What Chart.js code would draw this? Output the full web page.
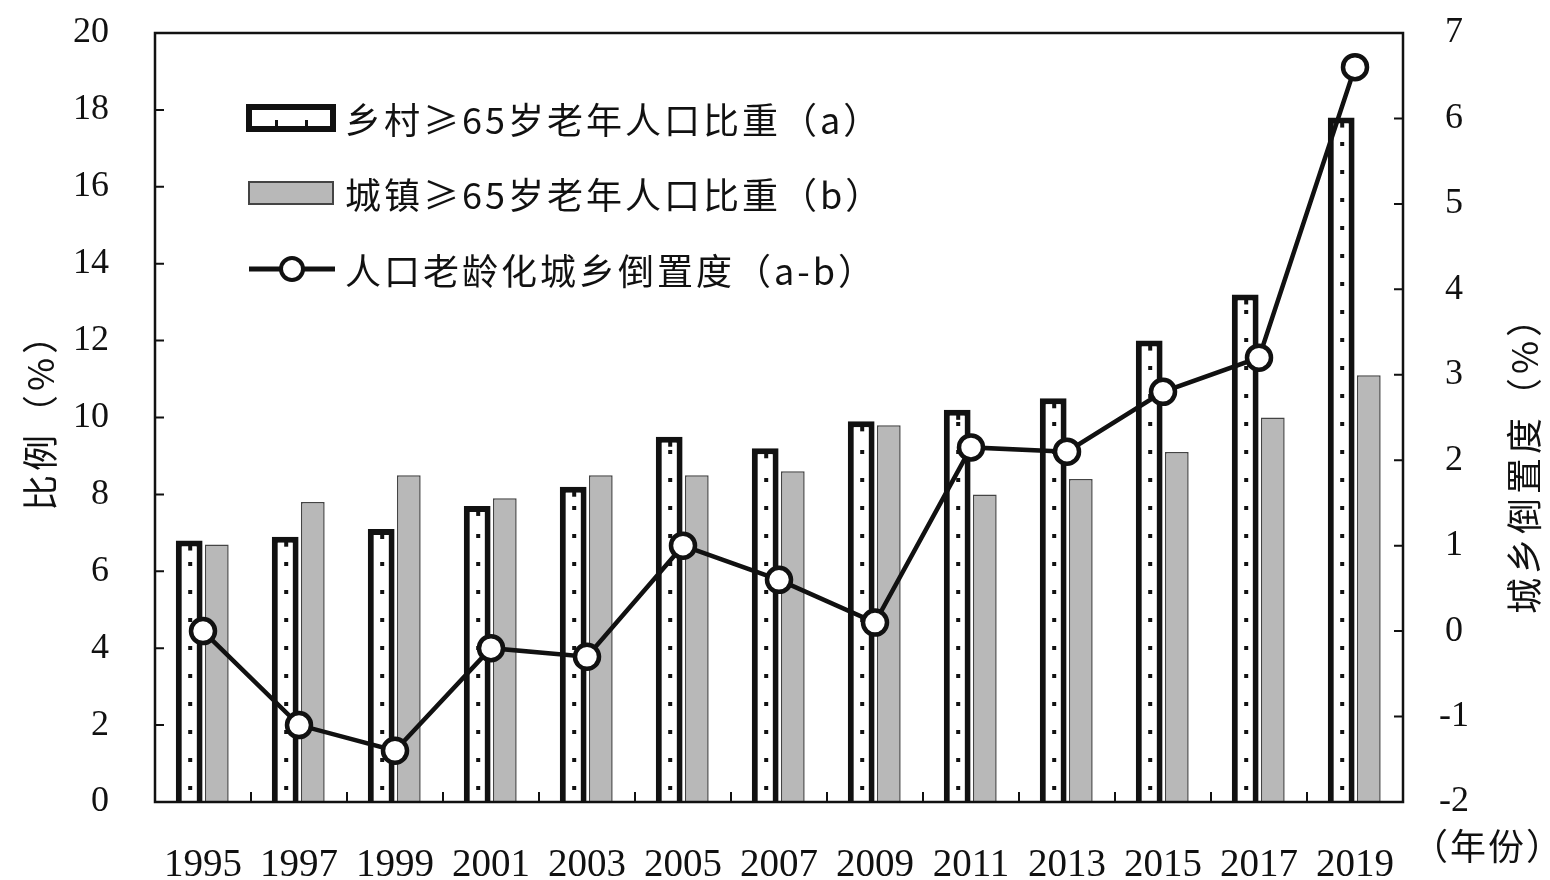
<!DOCTYPE html>
<html>
<head>
<meta charset="utf-8">
<script src="https://cdn.jsdelivr.net/npm/chart.js@4.4.1/dist/chart.umd.min.js"></script>
<style>
  html, body { margin: 0; padding: 0; background: #fff; }
  #wrap { width: 1550px; height: 880px; }
</style>
</head>
<body>
<div id="wrap"><canvas id="chart"></canvas></div>
<script>
// data
const years = ['1995', '1997', '1999', '2001', '2003', '2005', '2007', '2009', '2011', '2013', '2015', '2017', '2019'];
const rural = [6.8, 6.9, 7.1, 7.7, 8.2, 9.5, 9.2, 9.9, 10.2, 10.5, 12.0, 13.2, 17.8];
const urban = [6.7, 7.8, 8.5, 7.9, 8.5, 8.5, 8.6, 9.8, 8.0, 8.4, 9.1, 10.0, 11.1];
const inversion = [0.0, -1.1, -1.4, -0.2, -0.3, 1.0, 0.6, 0.1, 2.15, 2.1, 2.8, 3.2, 6.6];

const leftTicks = [0, 2, 4, 6, 8, 10, 12, 14, 16, 18, 20];
const rightTicks = [-2, -1, 0, 1, 2, 3, 4, 5, 6, 7];

const legendLabels = ['乡村≥65岁老年人口比重（a）', '城镇≥65岁老年人口比重（b）', '人口老龄化城乡倒置度（a-b）'];

const numFont = "'Liberation Serif', 'Times New Roman', serif";
const cjkFont = "'Noto Sans CJK SC', 'Noto Sans', sans-serif";
const grayFill = '#b8b8b8';

// dots inside the rural bars, frame, inner ticks, legend, axis titles
const decor = {
  id: 'decor',
  afterDatasetDraw(chart, args) {
    if (args.index !== 0) return;
    const ctx = chart.ctx;
    ctx.save();
    ctx.fillStyle = '#111';
    args.meta.data.forEach(bar => {
      const dx = bar.x + 1;
      for (let y = bar.base - 14; y > bar.y + 10; y -= 28) {
        ctx.fillRect(dx - 2, y - 2, 4, 4);
      }
      // small notch under the top border
      ctx.fillRect(dx - 2, bar.y + 5, 4, 5);
    });
    ctx.restore();
  },
  afterDraw(chart) {
    const ctx = chart.ctx;
    const a = chart.chartArea;
    const sx = chart.scales.x, sy = chart.scales.y, sy1 = chart.scales.y1;
    ctx.save();
    ctx.strokeStyle = '#111';
    ctx.lineWidth = 2.5;
    ctx.strokeRect(a.left, a.top, a.right - a.left, a.bottom - a.top);

    ctx.lineWidth = 2;
    ctx.beginPath();
    sy.ticks.forEach(t => {
      const py = sy.getPixelForValue(t.value);
      ctx.moveTo(a.left, py); ctx.lineTo(a.left + 9, py);
    });
    sy1.ticks.forEach(t => {
      const py = sy1.getPixelForValue(t.value);
      ctx.moveTo(a.right, py); ctx.lineTo(a.right - 9, py);
    });
    const cw = sx.getPixelForValue(1) - sx.getPixelForValue(0);
    for (let i = 0; i < years.length - 1; i++) {
      const px = sx.getPixelForValue(i) + cw / 2;
      ctx.moveTo(px, a.bottom); ctx.lineTo(px, a.bottom - 10);
    }
    ctx.stroke();

    // legend
    const lx = a.left + 94, tx = a.left + 190;
    const rows = [a.top + 85, a.top + 160, a.top + 236];
    ctx.fillStyle = '#fff';
    ctx.strokeStyle = '#111';
    ctx.lineWidth = 6;
    ctx.fillRect(lx, rows[0] - 11, 84, 22);
    ctx.strokeRect(lx, rows[0] - 11, 84, 22);
    ctx.fillStyle = '#111';
    ctx.fillRect(lx + 26, rows[0] + 2, 3, 6);
    ctx.fillRect(lx + 56, rows[0] + 2, 3, 6);

    ctx.fillStyle = grayFill;
    ctx.strokeStyle = '#444';
    ctx.lineWidth = 2;
    ctx.fillRect(lx, rows[1] - 11, 84, 22);
    ctx.strokeRect(lx, rows[1] - 11, 84, 22);

    ctx.strokeStyle = '#111';
    ctx.lineWidth = 5;
    ctx.beginPath();
    ctx.moveTo(lx, rows[2]); ctx.lineTo(lx + 86, rows[2]);
    ctx.stroke();
    ctx.fillStyle = '#fff';
    ctx.lineWidth = 4;
    ctx.beginPath();
    ctx.arc(lx + 43, rows[2], 11, 0, Math.PI * 2);
    ctx.fill(); ctx.stroke();

    ctx.fillStyle = '#111';
    ctx.font = '36px ' + cjkFont;
    ctx.letterSpacing = '3px';
    ctx.textBaseline = 'middle';
    ctx.textAlign = 'left';
    legendLabels.forEach((s, i) => ctx.fillText(s, tx, rows[i] + 2));

    // axis titles
    ctx.textAlign = 'center';
    ctx.font = '36px ' + cjkFont;
    ctx.letterSpacing = '4px';
    ctx.save();
    ctx.translate(40, (a.top + a.bottom) / 2 - 5);
    ctx.rotate(-Math.PI / 2);
    ctx.fillText('比例（%）', 0, 0);
    ctx.restore();
    ctx.save();
    ctx.translate(1524, (a.top + a.bottom) / 2 + 38);
    ctx.rotate(-Math.PI / 2);
    ctx.fillText('城乡倒置度（%）', 0, 0);
    ctx.restore();
    ctx.letterSpacing = '2px';
    ctx.fillText('（年份）', 1488, a.bottom + 44);
    ctx.restore();
  }
};

function fitVertical(w) {
  return function (scale) {
    scale.width = w;
    scale.paddingTop = 0;
    scale.paddingBottom = 0;
  };
}

const ctx = document.getElementById('chart').getContext('2d');
const chart = new Chart(ctx, {
  data: {
    labels: years,
    datasets: [
      {
        type: 'bar',
        label: legendLabels[0],
        data: rural,
        yAxisID: 'y',
        backgroundColor: '#fff',
        borderColor: '#111',
        borderWidth: 6,
        borderSkipped: 'bottom',
        barPercentage: 0.97,
        categoryPercentage: 0.575,
        order: 1
      },
      {
        type: 'bar',
        label: legendLabels[1],
        data: urban,
        yAxisID: 'y',
        backgroundColor: grayFill,
        borderColor: '#444',
        borderWidth: 1.5,
        borderSkipped: 'bottom',
        barPercentage: 0.86,
        categoryPercentage: 0.575,
        order: 2
      },
      {
        type: 'line',
        label: legendLabels[2],
        data: inversion,
        yAxisID: 'y1',
        borderColor: '#111',
        borderWidth: 4.5,
        tension: 0,
        pointRadius: 12,
        pointBorderWidth: 4.5,
        pointBackgroundColor: '#fff',
        pointBorderColor: '#111',
        order: 0
      }
    ]
  },
  options: {
    responsive: true,
    maintainAspectRatio: false,
    animation: false,
    layout: { autoPadding: false, padding: { top: 33, left: 0, right: 0, bottom: 0 } },
    plugins: {
      legend: { display: false },
      tooltip: { enabled: false }
    },
    scales: {
      x: {
        offset: true,
        grid: { display: false },
        border: { display: false },
        ticks: {
          color: '#111',
          font: { family: numFont, size: 39 },
          padding: 32,
          maxRotation: 0,
          autoSkip: false
        },
        afterFit(scale) { scale.height = 78; scale.paddingLeft = 0; scale.paddingRight = 0; }
      },
      y: {
        position: 'left',
        min: 0,
        max: 20,
        afterBuildTicks(scale) { scale.ticks = leftTicks.map(v => ({ value: v })); },
        grid: { display: false },
        border: { display: false },
        ticks: {
          color: '#111',
          font: { family: numFont, size: 36 },
          padding: 38
        },
        afterFit: fitVertical(155)
      },
      y1: {
        position: 'right',
        min: -2,
        max: 7,
        afterBuildTicks(scale) { scale.ticks = rightTicks.map(v => ({ value: v })); },
        grid: { display: false },
        border: { display: false },
        ticks: {
          color: '#111',
          font: { family: numFont, size: 36 },
          padding: 28,
          crossAlign: 'center'
        },
        afterFit: fitVertical(147)
      }
    }
  },
  plugins: [decor]
});
</script>
</body>
</html>
